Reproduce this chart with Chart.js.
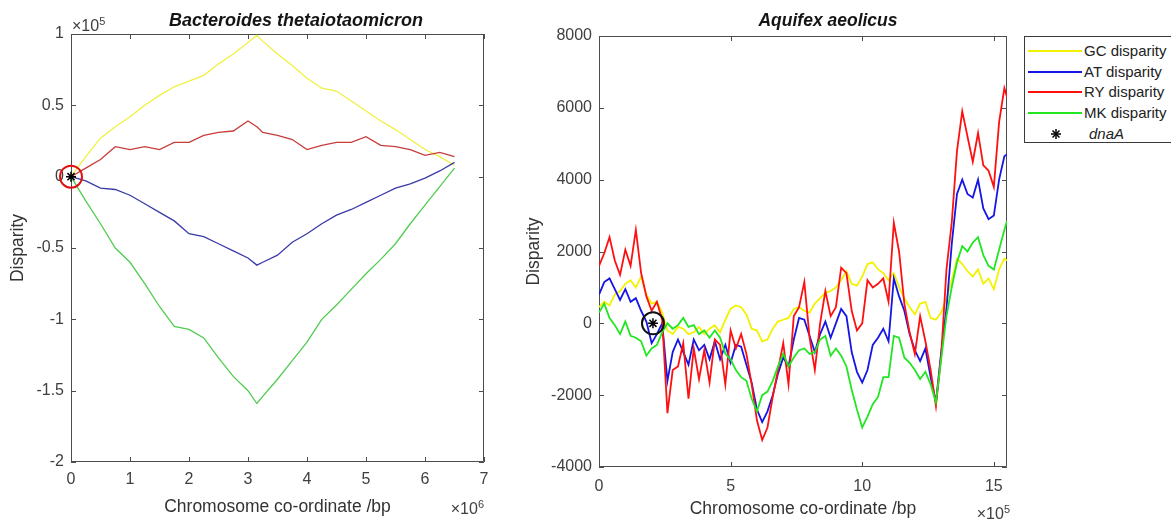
<!DOCTYPE html>
<html>
<head>
<meta charset="utf-8">
<title>Disparity</title>
<script src="https://cdn.jsdelivr.net/npm/chart.js@4.4.1/dist/chart.umd.min.js"></script>
<style>
  body { margin: 0; background: #fff; font-family: "Liberation Sans", Arial, sans-serif; }
  #page { position: relative; width: 1171px; height: 522px; overflow: hidden; }
  canvas { position: absolute; top: 0; }
  #btChart { left: 0; }
  #aqChart { left: 520px; }
  .ttl { position: absolute; top: 9px; font-size: 17.5px; font-weight: bold; font-style: italic; color: #151515; white-space: nowrap; transform: translateX(-50%); line-height: 22px; }
  .pow { position: absolute; font-size: 16px; color: #404040; white-space: nowrap; line-height: 18px; }
  .pow sup { font-size: 11px; vertical-align: 6px; line-height: 0; }
  #legend { position: absolute; left: 1024px; top: 36px; width: 170px; height: 107px; border: 1px solid #3a3a3a; box-sizing: border-box; background: #fff; }
  .row { position: absolute; left: 0; width: 160px; height: 20px; line-height: 20px; font-size: 15px; color: #222; white-space: nowrap; }
  .swatch { position: absolute; left: 3px; top: 9px; width: 54px; height: 2px; }
  .row .lbl { position: absolute; left: 59px; }
  .row svg { position: absolute; left: 25px; top: 4px; }
</style>
</head>
<body>
<div id="page">
  <canvas id="btChart" width="520" height="522"></canvas>
  <canvas id="aqChart" width="500" height="522"></canvas>
  <div class="ttl" style="left:296px; font-size:18px">Bacteroides thetaiotaomicron</div>
  <div class="ttl" style="left:828px">Aquifex aeolicus</div>
  <div class="pow" style="left:72px; top:17px">&times;10<sup>5</sup></div>
  <div class="pow" style="right:687px; top:500px">&times;10<sup>6</sup></div>
  <div class="pow" style="right:161px; top:505px">&times;10<sup>5</sup></div>
  <div id="legend"></div>
</div>
<script>
Chart.defaults.font.family = '"Liberation Sans", Arial, sans-serif';
Chart.defaults.color = '#404040';

const seriesNames = ['GC disparity', 'AT disparity', 'RY disparity', 'MK disparity'];

// Bacteroides thetaiotaomicron: x in units of 10^6 bp, y in units of 10^5
const btX = [0, 0.25, 0.5, 0.75, 1, 1.25, 1.5, 1.75, 2, 2.25, 2.5, 2.75, 3, 3.15,
  3.25, 3.5, 3.75, 4, 4.25, 4.5, 4.75, 5, 5.25, 5.5, 5.75, 6, 6.25, 6.5];
const btGC = [0, 0.14, 0.27, 0.35, 0.42, 0.50, 0.57, 0.63, 0.67, 0.71, 0.79, 0.86, 0.94, 0.99,
  0.95, 0.86, 0.78, 0.69, 0.62, 0.60, 0.53, 0.46, 0.39, 0.33, 0.26, 0.19, 0.14, 0.08];
const btAT = [0, -0.03, -0.08, -0.09, -0.13, -0.19, -0.25, -0.31, -0.40, -0.42, -0.47, -0.52, -0.57, -0.62,
  -0.60, -0.55, -0.46, -0.40, -0.33, -0.27, -0.23, -0.18, -0.13, -0.08, -0.05, -0.01, 0.04, 0.10];
const btRY = [0, 0.06, 0.12, 0.21, 0.19, 0.21, 0.19, 0.24, 0.24, 0.29, 0.31, 0.32, 0.39, 0.35,
  0.31, 0.29, 0.26, 0.19, 0.22, 0.24, 0.24, 0.28, 0.22, 0.21, 0.19, 0.15, 0.17, 0.14];
const btMK = [0, -0.17, -0.33, -0.50, -0.60, -0.75, -0.91, -1.05, -1.07, -1.13, -1.27, -1.40, -1.50, -1.59,
  -1.54, -1.42, -1.29, -1.16, -1.00, -0.90, -0.79, -0.68, -0.58, -0.47, -0.33, -0.20, -0.07, 0.06];
const btDnaA = [0, 0];
const btXTicks = [0, 1, 2, 3, 4, 5, 6, 7];
const btYTicks = [-2, -1.5, -1, -0.5, 0, 0.5, 1];

// Aquifex aeolicus: x in units of 10^5 bp, y in bases
const aqX = [
  0, 0.2, 0.4, 0.6, 0.8, 1, 1.2, 1.4, 1.6, 1.8,
  2, 2.2, 2.4, 2.6, 2.8, 3, 3.2, 3.4, 3.6, 3.8,
  4, 4.2, 4.4, 4.6, 4.8, 5, 5.2, 5.4, 5.6, 5.8,
  6, 6.2, 6.4, 6.6, 6.8, 7, 7.2, 7.4, 7.6, 7.8,
  8, 8.2, 8.4, 8.6, 8.8, 9, 9.2, 9.4, 9.6, 9.8,
  10, 10.2, 10.4, 10.6, 10.8, 11, 11.2, 11.4, 11.6, 11.8,
  12, 12.2, 12.4, 12.6, 12.8, 13, 13.2, 13.4, 13.6, 13.8,
  14, 14.2, 14.4, 14.6, 14.8, 15, 15.2, 15.4, 15.5];
const aqGC = [
  450, 600, 500, 800, 900, 1100, 1200, 1000, 1300, 800,
  550, 600, 300, -200, -300, -100, -150, -300, -250, -100,
  -300, -150, -50, -250, 100, 400, 500, 450, 250, -150,
  -200, -500, -450, -150, 50, 100, 150, 400, 450, 350,
  300, 550, 700, 850, 900, 1000, 1200, 1450, 1100, 1050,
  1300, 1650, 1700, 1500, 1400, 1200, 1400, 1000, 700, 450,
  250, 550, 600, 150, 100, 300, 700, 1200, 1800, 1650,
  1450, 1300, 1500, 1100, 1250, 950, 1500, 1800, 1750];
const aqAT = [
  800, 1150, 1250, 950, 650, 950, 600, 700, 350, 50,
  -550, -300, 0, -1600, -800, -450, -800, -1150, -450, -750,
  -600, -1000, -500, -1000, -600, -1100, -600, -650, -1150, -1650,
  -2400, -2750, -2450, -2000, -1400, -950, -1200, -450, 150, 100,
  -350, -800, -300, 50, -400, 0, 400, 200, -800, -1350,
  -1650, -1300, -600, -400, -150, -500, 1250, 750, 350, -300,
  -750, -1050, -700, -1500, -2200, -800, 400, 2200, 3600, 4000,
  3600, 3500, 4000, 3200, 2900, 3000, 4000, 4650, 4700];
const aqRY = [
  1600, 1950, 2400, 1750, 1350, 2050, 1600, 2600, 1400, 750,
  350, 600, 100, -2500, -1300, -1200, -550, -2100, -700, -1550,
  -750, -1650, -450, -600, -1700, -200, -700, -300, -850, -1700,
  -2700, -3250, -2900, -2050, -1300, -550, -1700, 200, 450, 1150,
  -400, -1300, 0, 900, 200, 450, 1550, 1400, 350, -200,
  0, 1200, 1000, 1100, 1250, 600, 2800, 2000, 550, -250,
  -850, 200, -500, -1300, -2300, -900, 1500, 2800, 4800, 5900,
  5200, 4500, 5300, 4400, 4250, 3800, 5600, 6550, 6300];
const aqMK = [
  300, 550, 150, -50, -300, 50, -350, -400, -500, -900,
  -700, -600, -250, 0, -150, -50, 150, -100, -50, -300,
  -200, -400, -200, -400, -850, -1000, -1300, -1500, -1600, -2100,
  -2450, -2000, -1900, -1600, -1200, -850, -1200, -950, -750, -700,
  -850, -800, -450, -350, -900, -700, -900, -1200, -1850, -2400,
  -2900, -2600, -2250, -2050, -1500, -1500, -350, -400, -950, -1100,
  -1300, -1550, -1350, -1700, -2200, -1000, 200, 1000, 1700, 2150,
  2000, 2250, 2400, 1900, 1600, 1500, 2050, 2600, 2850];
const aqDnaA = [2.05, 0];
const aqXTicks = [0, 5, 10, 15];
const aqYTicks = [-4000, -2000, 0, 2000, 4000, 6000, 8000];

const btColors = ['#f0f040', '#3a3aa8', '#c83c3c', '#50cc50'];
const aqColors = ['#f2f200', '#1515e6', '#ff1010', '#22e622'];
const drawOrder = [4, 3, 2, 1]; // MK on top, GC at the bottom

// box with inward ticks on all four sides
const matlabBox = {
  id: 'matlabBox',
  beforeDatasetsDraw(chart) {
    const {ctx, chartArea: a, scales} = chart;
    const tl = 5;
    ctx.save();
    ctx.strokeStyle = '#4d4d4d';
    ctx.lineWidth = 1;
    ctx.beginPath();
    ctx.rect(Math.round(a.left) + 0.5, Math.round(a.top) + 0.5, Math.round(a.width) - 1, Math.round(a.height) - 1);
    scales.x.ticks.forEach(t => {
      const p = Math.round(scales.x.getPixelForValue(t.value)) + 0.5;
      ctx.moveTo(p, a.bottom); ctx.lineTo(p, a.bottom - tl);
      ctx.moveTo(p, a.top); ctx.lineTo(p, a.top + tl);
    });
    scales.y.ticks.forEach(t => {
      const p = Math.round(scales.y.getPixelForValue(t.value)) + 0.5;
      ctx.moveTo(a.left, p); ctx.lineTo(a.left + tl, p);
      ctx.moveTo(a.right, p); ctx.lineTo(a.right - tl, p);
    });
    ctx.stroke();
    ctx.restore();
  }
};

function buildChart(id, o) {
  const sets = o.series.map((vals, k) => ({
    label: seriesNames[k],
    data: o.xs.map((x, i) => ({x: x, y: vals[i]})),
    borderColor: o.colors[k],
    borderWidth: o.lineWidth,
    pointRadius: 0,
    tension: 0,
    order: drawOrder[k]
  }));
  sets.push({
    label: 'ring',
    data: [{x: o.dnaA[0], y: o.dnaA[1]}],
    showLine: false,
    pointStyle: 'circle',
    pointRadius: 11,
    pointBorderColor: o.ringColor,
    pointBackgroundColor: 'rgba(0,0,0,0)',
    pointBorderWidth: 2,
    clip: false,
    order: 0
  });
  sets.push({
    label: 'dnaA',
    data: [{x: o.dnaA[0], y: o.dnaA[1]}],
    showLine: false,
    pointStyle: 'star',
    pointRadius: 5,
    pointBorderColor: '#000',
    pointBorderWidth: 1.5,
    clip: false,
    order: 0
  });

  const tickFont = {size: 16};
  return new Chart(document.getElementById(id), {
    type: 'line',
    data: {datasets: sets},
    options: {
      responsive: false,
      animation: false,
      events: [],
      layout: {padding: o.pad},
      plugins: {legend: {display: false}, tooltip: {enabled: false}},
      scales: {
        x: {
          type: 'linear',
          min: o.xTicks[0],
          max: o.xMax,
          afterBuildTicks: s => { s.ticks = o.xTicks.map(v => ({value: v})); },
          afterFit: s => { s.height = o.xAxisH; },
          grid: {display: false, drawTicks: false},
          border: {display: false},
          ticks: {padding: o.xPad, font: tickFont, maxRotation: 0, autoSkip: false, callback: v => String(v)},
          title: {display: true, text: 'Chromosome co-ordinate /bp', color: '#333', font: {size: 17.5}, padding: {top: 0, bottom: o.xTitlePad}}
        },
        y: {
          type: 'linear',
          min: o.yTicks[0],
          max: o.yTicks[o.yTicks.length - 1],
          afterBuildTicks: s => { s.ticks = o.yTicks.map(v => ({value: v})); },
          afterFit: s => { s.width = o.yAxisW; },
          grid: {display: false, drawTicks: false},
          border: {display: false},
          ticks: {padding: 7, font: tickFont, autoSkip: false, callback: v => String(v)},
          title: {display: true, text: 'Disparity', color: '#333', font: {size: 17.5}, padding: {top: o.yTitlePad, bottom: 0}}
        }
      }
    },
    plugins: [matlabBox]
  });
}

buildChart('btChart', {
  xs: btX, series: [btGC, btAT, btRY, btMK], colors: btColors, lineWidth: 1.3,
  dnaA: btDnaA, ringColor: '#e01010',
  xTicks: btXTicks, xMax: 7, yTicks: btYTicks,
  pad: {left: 0, right: 36, top: 34, bottom: 0},
  yAxisW: 71, xAxisH: 60, xPad: 8, xTitlePad: 4, yTitlePad: 8
});

buildChart('aqChart', {
  xs: aqX, series: [aqGC, aqAT, aqRY, aqMK], colors: aqColors, lineWidth: 1.8,
  dnaA: aqDnaA, ringColor: '#111',
  xTicks: aqXTicks, xMax: 15.5, yTicks: aqYTicks,
  pad: {left: 0, right: 10, top: 36, bottom: 0},
  yAxisW: 79, xAxisH: 55, xPad: 10, xTitlePad: 2, yTitlePad: 4
});

// legend
const legend = document.getElementById('legend');
seriesNames.forEach((name, k) => {
  const row = document.createElement('div');
  row.className = 'row';
  row.style.top = (4 + k * 20.7) + 'px';
  row.innerHTML = '<div class="swatch" style="background:' + aqColors[k] + '"></div><span class="lbl">' + name + '</span>';
  legend.appendChild(row);
});
const starRow = document.createElement('div');
starRow.className = 'row';
starRow.style.top = (4 + 4 * 20.7) + 'px';
starRow.innerHTML = '<svg width="12" height="12" viewBox="0 0 12 12"><g stroke="#000" stroke-width="1.5">' +
  '<line x1="6" y1="1" x2="6" y2="11"/><line x1="1" y1="6" x2="11" y2="6"/>' +
  '<line x1="2.5" y1="2.5" x2="9.5" y2="9.5"/><line x1="9.5" y1="2.5" x2="2.5" y2="9.5"/></g></svg>' +
  '<span class="lbl" style="font-style:italic; left:64px">dnaA</span>';
legend.appendChild(starRow);
</script>
</body>
</html>
